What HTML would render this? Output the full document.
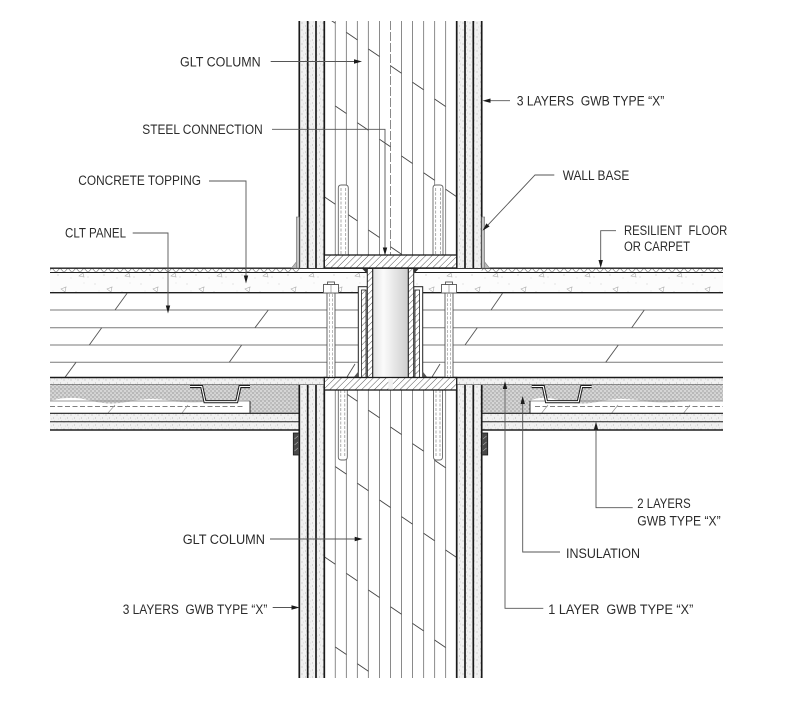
<!DOCTYPE html>
<html><head><meta charset="utf-8"><style>
html,body{margin:0;padding:0;background:#fff;}
svg{display:block;}
text{font-family:"Liberation Sans",sans-serif;font-size:13.5px;fill:#2b2b2b;}
</style></head><body>
<svg width="802" height="715" viewBox="0 0 802 715" xmlns="http://www.w3.org/2000/svg">
<defs>
 <pattern id="gyp" width="7" height="7" patternUnits="userSpaceOnUse">
  <rect width="7" height="7" fill="#f1f1f1"/>
  <circle cx="1" cy="2" r="0.5" fill="#9a9a9a"/>
  <circle cx="4.5" cy="5" r="0.5" fill="#aaa"/>
  <circle cx="5.5" cy="1" r="0.4" fill="#b5b5b5"/>
  <circle cx="2.5" cy="6" r="0.35" fill="#bbb"/>
 </pattern>
 <pattern id="ins" width="4" height="4" patternUnits="userSpaceOnUse">
  <rect width="4" height="4" fill="#d6d6d6"/>
  <circle cx="1" cy="1" r="0.6" fill="#6f6f6f"/>
  <circle cx="3" cy="3" r="0.6" fill="#808080"/>
  <circle cx="3" cy="0.8" r="0.35" fill="#999"/>
 </pattern>
 <pattern id="hatch" width="4.5" height="4.5" patternUnits="userSpaceOnUse" patternTransform="rotate(45)">
  <rect width="4.5" height="4.5" fill="#fff"/>
  <line x1="0" y1="0" x2="0" y2="4.5" stroke="#444" stroke-width="0.9"/>
 </pattern>
 <pattern id="conc" width="46" height="20" patternUnits="userSpaceOnUse">
  <rect width="46" height="20" fill="#fcfcfc"/>
  <circle cx="3" cy="4" r="0.5" fill="#bbb"/>
  <circle cx="12" cy="15" r="0.5" fill="#aaa"/>
  <circle cx="20" cy="7" r="0.4" fill="#bbb"/>
  <circle cx="30" cy="12" r="0.5" fill="#aaa"/>
  <circle cx="38" cy="3" r="0.4" fill="#bbb"/>
  <circle cx="42" cy="17" r="0.5" fill="#bbb"/>
  <circle cx="7" cy="11" r="0.4" fill="#c4c4c4"/>
  <circle cx="25" cy="18" r="0.4" fill="#bbb"/>
  <path d="M15 9 l5 -2 l-1 5z" fill="none" stroke="#aaa" stroke-width="0.6"/>
  <path d="M33 16 l4 -3 l1 4z" fill="none" stroke="#aaa" stroke-width="0.6"/>
 </pattern>
 <pattern id="fin" x="0" y="268" width="8" height="4.5" patternUnits="userSpaceOnUse">
  <rect width="8" height="4.5" fill="#fff"/>
  <path d="M0 4.5 L4 0 L8 4.5" fill="none" stroke="#777" stroke-width="0.6"/>
 </pattern>
 <linearGradient id="tube" x1="0" x2="1" y1="0" y2="0">
  <stop offset="0" stop-color="#e2e2e2"/>
  <stop offset="0.3" stop-color="#fbfbfb"/>
  <stop offset="1" stop-color="#cdcdcd"/>
 </linearGradient>
 <clipPath id="cu"><rect x="324.3" y="21" width="132.4" height="234"/></clipPath>
 <clipPath id="cl"><rect x="324.3" y="390" width="132.4" height="288"/></clipPath>
</defs>

<!-- ================= FLOOR ================= -->
<!-- finish band -->
<rect x="50" y="268" width="249.3" height="4.5" fill="url(#fin)"/>
<rect x="481.7" y="268" width="241.3" height="4.5" fill="url(#fin)"/>
<!-- topping -->
<rect x="50" y="272.5" width="317.3" height="20.2" fill="url(#conc)"/>
<rect x="413.7" y="272.5" width="309.3" height="20.2" fill="url(#conc)"/>
<g stroke="#1e1e1e">
 <line x1="50" y1="268.2" x2="367.3" y2="268.2" stroke-width="1.4"/>
 <line x1="413.7" y1="268.2" x2="723" y2="268.2" stroke-width="1.4"/>
 <line x1="50" y1="272.5" x2="367.3" y2="272.5" stroke-width="1"/>
 <line x1="413.7" y1="272.5" x2="723" y2="272.5" stroke-width="1"/>
 <line x1="50" y1="292.7" x2="358.3" y2="292.7" stroke-width="1.4"/>
 <line x1="422.7" y1="292.7" x2="723" y2="292.7" stroke-width="1.4"/>
</g>
<!-- CLT lam lines -->
<g stroke="#7a7a7a" stroke-width="1">
 <line x1="50" y1="310" x2="358.3" y2="310"/>
 <line x1="50" y1="327.7" x2="358.3" y2="327.7"/>
 <line x1="50" y1="345" x2="358.3" y2="345"/>
 <line x1="50" y1="362.3" x2="358.3" y2="362.3"/>
 <line x1="422.7" y1="310" x2="723" y2="310"/>
 <line x1="422.7" y1="327.7" x2="723" y2="327.7"/>
 <line x1="422.7" y1="345" x2="723" y2="345"/>
 <line x1="422.7" y1="362.3" x2="723" y2="362.3"/>
</g>
<!-- CLT joint diagonals -->
<g stroke="#555" stroke-width="0.9">
 <line x1="127.3" y1="293" x2="115" y2="310"/>
 <line x1="268.3" y1="310" x2="255" y2="327.7"/>
 <line x1="101.7" y1="327.7" x2="89.3" y2="345"/>
 <line x1="241.7" y1="345" x2="229.3" y2="362.3"/>
 <line x1="76" y1="362.3" x2="65" y2="377.3"/>
 <line x1="355" y1="364" x2="347" y2="377"/>
 <line x1="502.7" y1="293" x2="491" y2="310"/>
 <line x1="644.3" y1="310" x2="631.7" y2="327.7"/>
 <line x1="477.3" y1="327.7" x2="465" y2="345"/>
 <line x1="618.3" y1="345" x2="605.7" y2="362.3"/>
 <line x1="440" y1="364" x2="432" y2="377"/>
</g>
<!-- 1 layer GWB under CLT -->
<rect x="50" y="377.5" width="274.3" height="7.5" fill="url(#gyp)"/>
<rect x="456.7" y="377.5" width="266.3" height="7.5" fill="url(#gyp)"/>
<line x1="50" y1="377.5" x2="723" y2="377.5" stroke="#1a1a1a" stroke-width="1.6"/>
<line x1="50" y1="385" x2="324.3" y2="385" stroke="#222" stroke-width="1"/>
<line x1="456.7" y1="385" x2="723" y2="385" stroke="#222" stroke-width="1"/>

<!-- ceiling cavity left -->
<path d="M50 385 H250 V401 Q230 399 210 401.5 T170 400.5 T130 401.5 T90 400.5 T50 401 Z" fill="url(#ins)"/>
<rect x="250" y="385" width="49.3" height="28.3" fill="url(#ins)"/>
<line x1="50" y1="401" x2="250" y2="401" stroke="#777" stroke-width="0.7"/>
<line x1="50" y1="406.5" x2="245" y2="406.5" stroke="#555" stroke-width="0.8" stroke-dasharray="5,2.5"/>
<line x1="250" y1="401" x2="250" y2="413.3" stroke="#333" stroke-width="1"/>
<g stroke="#999" stroke-width="0.7">
 <line x1="115" y1="405" x2="108" y2="413"/>
 <line x1="188" y1="405" x2="182" y2="413"/>
</g>
<!-- ceiling cavity right -->
<path d="M530 385 H723 V401 Q700 399 680 401.5 T640 400.5 T600 401.5 T560 400.5 T530 401 Z" fill="url(#ins)"/>
<rect x="481.7" y="385" width="48.3" height="28.3" fill="url(#ins)"/>
<line x1="530" y1="401" x2="723" y2="401" stroke="#777" stroke-width="0.7"/>
<line x1="535" y1="406.5" x2="723" y2="406.5" stroke="#555" stroke-width="0.8" stroke-dasharray="5,2.5"/>
<line x1="530" y1="401" x2="530" y2="413.3" stroke="#333" stroke-width="1"/>
<g stroke="#999" stroke-width="0.7">
 <line x1="548" y1="405" x2="541.7" y2="413"/>
 <line x1="618" y1="405" x2="611.7" y2="413"/>
 <line x1="690" y1="405" x2="683.7" y2="413"/>
</g>
<!-- hat channels -->
<g fill="none" stroke-linejoin="miter">
 <path d="M190 386.5 H201.7 L205 401.7 H236.7 L240 386.5 H250" stroke="#1e1e1e" stroke-width="3.2"/>
 <path d="M190 386.5 H201.7 L205 401.7 H236.7 L240 386.5 H250" stroke="#fff" stroke-width="1.1"/>
 <path d="M531.7 386.5 H543.3 L546.5 401.7 H578.3 L581.7 386.5 H591.7" stroke="#1e1e1e" stroke-width="3.2"/>
 <path d="M531.7 386.5 H543.3 L546.5 401.7 H578.3 L581.7 386.5 H591.7" stroke="#fff" stroke-width="1.1"/>
</g>
<!-- 2 layers GWB ceiling -->
<rect x="50" y="413.3" width="249.3" height="16.7" fill="url(#gyp)"/>
<rect x="481.7" y="413.3" width="241.3" height="16.7" fill="url(#gyp)"/>
<g stroke="#1e1e1e">
 <line x1="50" y1="413.3" x2="299.3" y2="413.3" stroke-width="1.1"/>
 <line x1="50" y1="421.7" x2="299.3" y2="421.7" stroke-width="1"/>
 <line x1="50" y1="430" x2="299.3" y2="430" stroke-width="1.6"/>
 <line x1="481.7" y1="413.3" x2="723" y2="413.3" stroke-width="1.1"/>
 <line x1="481.7" y1="421.7" x2="723" y2="421.7" stroke-width="1"/>
 <line x1="481.7" y1="430" x2="723" y2="430" stroke-width="1.6"/>
</g>

<!-- ================= COLUMN UPPER ================= -->
<rect x="299.3" y="21" width="25" height="247" fill="url(#gyp)"/>
<rect x="456.7" y="21" width="25" height="247" fill="url(#gyp)"/>
<g stroke="#8a8a8a" stroke-width="1">
 <line x1="335.3" y1="21" x2="335.3" y2="255"/>
 <line x1="346.4" y1="21" x2="346.4" y2="255"/>
 <line x1="357.4" y1="21" x2="357.4" y2="255"/>
 <line x1="368.4" y1="21" x2="368.4" y2="255"/>
 <line x1="379.5" y1="21" x2="379.5" y2="255"/>
 <line x1="390.5" y1="21" x2="390.5" y2="255" stroke-dasharray="9,2"/>
 <line x1="401.5" y1="21" x2="401.5" y2="255"/>
 <line x1="412.5" y1="21" x2="412.5" y2="255"/>
 <line x1="423.6" y1="21" x2="423.6" y2="255"/>
 <line x1="434.6" y1="21" x2="434.6" y2="255"/>
 <line x1="445.6" y1="21" x2="445.6" y2="255"/>
</g>
<g stroke="#444" stroke-width="0.9" clip-path="url(#cu)">
 <line x1="324.3" y1="15.7" x2="335.3" y2="23.2"/>
 <line x1="346.4" y1="32.4" x2="357.4" y2="39.9"/>
 <line x1="368.4" y1="49" x2="379.5" y2="56.5"/>
 <line x1="390.5" y1="65.7" x2="401.5" y2="73.2"/>
 <line x1="412.5" y1="82.3" x2="423.6" y2="89.8"/>
 <line x1="434.6" y1="99" x2="445.6" y2="106.5"/>
 <line x1="335.3" y1="106" x2="346.4" y2="113.5"/>
 <line x1="357.4" y1="122.7" x2="368.4" y2="130.2"/>
 <line x1="379.5" y1="139.3" x2="390.5" y2="146.8"/>
 <line x1="401.5" y1="156" x2="412.5" y2="163.5"/>
 <line x1="423.6" y1="172.7" x2="434.6" y2="180.2"/>
 <line x1="445.6" y1="189.3" x2="456.7" y2="196.8"/>
 <line x1="324.3" y1="196.7" x2="335.3" y2="204.2"/>
 <line x1="346.4" y1="213.4" x2="357.4" y2="220.9"/>
 <line x1="368.4" y1="230" x2="379.5" y2="237.5"/>
 <line x1="390.5" y1="246.7" x2="401.5" y2="254.2"/>
</g>
<!-- upper bolts -->
<g fill="#fff" stroke="#666" stroke-width="0.9">
 <path d="M338.3 255 V188 Q338.3 185 341.3 185 H345.3 Q348.3 185 348.3 188 V255"/>
 <path d="M433 255 V188 Q433 185 436 185 H440 Q443 185 443 188 V255"/>
</g>
<g stroke="#888" stroke-width="0.7" stroke-dasharray="3,1.5">
 <line x1="341" y1="188" x2="341" y2="255"/><line x1="345.7" y1="188" x2="345.7" y2="255"/>
 <line x1="435.7" y1="188" x2="435.7" y2="255"/><line x1="440.4" y1="188" x2="440.4" y2="255"/>
</g>
<g stroke="#1a1a1a" stroke-width="1.7">
 <line x1="299.3" y1="21" x2="299.3" y2="268"/>
 <line x1="307.7" y1="21" x2="307.7" y2="268"/>
 <line x1="316" y1="21" x2="316" y2="268"/>
 <line x1="324.3" y1="21" x2="324.3" y2="268"/>
 <line x1="456.7" y1="21" x2="456.7" y2="268"/>
 <line x1="465" y1="21" x2="465" y2="268"/>
 <line x1="473.3" y1="21" x2="473.3" y2="268"/>
 <line x1="481.7" y1="21" x2="481.7" y2="268"/>
</g>
<!-- wall base -->
<rect x="296.3" y="217" width="3" height="51" fill="#c4c4c4" stroke="#777" stroke-width="0.6"/>
<path d="M291.5 268 L296.3 262 V268 Z" fill="#bbb" stroke="#777" stroke-width="0.6"/>
<rect x="481.7" y="217" width="3" height="51" fill="#c4c4c4" stroke="#777" stroke-width="0.6"/>
<path d="M489.5 268 L484.7 262 V268 Z" fill="#bbb" stroke="#777" stroke-width="0.6"/>

<!-- ================= COLUMN LOWER ================= -->
<rect x="299.3" y="385" width="25" height="293" fill="url(#gyp)"/>
<rect x="456.7" y="385" width="25" height="293" fill="url(#gyp)"/>
<g stroke="#8a8a8a" stroke-width="1">
 <line x1="335.3" y1="390" x2="335.3" y2="678"/>
 <line x1="346.4" y1="390" x2="346.4" y2="678"/>
 <line x1="357.4" y1="390" x2="357.4" y2="678"/>
 <line x1="368.4" y1="390" x2="368.4" y2="678"/>
 <line x1="379.5" y1="390" x2="379.5" y2="678"/>
 <line x1="390.5" y1="390" x2="390.5" y2="678"/>
 <line x1="401.5" y1="390" x2="401.5" y2="678"/>
 <line x1="412.5" y1="390" x2="412.5" y2="678"/>
 <line x1="423.6" y1="390" x2="423.6" y2="678"/>
 <line x1="434.6" y1="390" x2="434.6" y2="678"/>
 <line x1="445.6" y1="390" x2="445.6" y2="678"/>
</g>
<g stroke="#444" stroke-width="0.9" clip-path="url(#cl)">
 <line x1="346.4" y1="393.7" x2="357.4" y2="401.2"/>
 <line x1="368.4" y1="410.3" x2="379.5" y2="417.8"/>
 <line x1="390.5" y1="427" x2="401.5" y2="434.5"/>
 <line x1="412.5" y1="443.6" x2="423.6" y2="451.1"/>
 <line x1="434.6" y1="460.3" x2="445.6" y2="467.8"/>
 <line x1="335.3" y1="466.6" x2="346.4" y2="474.1"/>
 <line x1="357.4" y1="483.3" x2="368.4" y2="490.8"/>
 <line x1="379.5" y1="500" x2="390.5" y2="507.5"/>
 <line x1="401.5" y1="516.6" x2="412.5" y2="524.1"/>
 <line x1="423.6" y1="533.3" x2="434.6" y2="540.8"/>
 <line x1="445.6" y1="550" x2="456.7" y2="557.5"/>
 <line x1="324.3" y1="556.7" x2="335.3" y2="564.2"/>
 <line x1="346.4" y1="573.4" x2="357.4" y2="580.9"/>
 <line x1="368.4" y1="590" x2="379.5" y2="597.5"/>
 <line x1="390.5" y1="606.7" x2="401.5" y2="614.2"/>
 <line x1="412.5" y1="623.4" x2="423.6" y2="630.9"/>
 <line x1="434.6" y1="640" x2="445.6" y2="647.5"/>
 <line x1="335.3" y1="647" x2="346.4" y2="654.5"/>
 <line x1="357.4" y1="663.7" x2="368.4" y2="671.2"/>
</g>
<!-- lower bolts -->
<g fill="#fff" stroke="#666" stroke-width="0.9">
 <path d="M338.3 390 V457 Q338.3 460 341.3 460 H344.3 Q347.3 460 347.3 457 V390"/>
 <path d="M433.5 390 V457 Q433.5 460 436.5 460 H439.5 Q442.5 460 442.5 457 V390"/>
</g>
<g stroke="#888" stroke-width="0.7" stroke-dasharray="3,1.5">
 <line x1="340.8" y1="390" x2="340.8" y2="457"/><line x1="344.8" y1="390" x2="344.8" y2="457"/>
 <line x1="436" y1="390" x2="436" y2="457"/><line x1="440" y1="390" x2="440" y2="457"/>
</g>
<g stroke="#1a1a1a" stroke-width="1.7">
 <line x1="299.3" y1="385" x2="299.3" y2="678"/>
 <line x1="307.7" y1="385" x2="307.7" y2="678"/>
 <line x1="316" y1="385" x2="316" y2="678"/>
 <line x1="324.3" y1="385" x2="324.3" y2="678"/>
 <line x1="456.7" y1="385" x2="456.7" y2="678"/>
 <line x1="465" y1="385" x2="465" y2="678"/>
 <line x1="473.3" y1="385" x2="473.3" y2="678"/>
 <line x1="481.7" y1="385" x2="481.7" y2="678"/>
</g>
<!-- sealant blocks -->
<rect x="293.3" y="433" width="6" height="22" fill="#4a4a4a" stroke="#1a1a1a" stroke-width="0.8"/>
<rect x="481.7" y="433" width="6" height="22" fill="#4a4a4a" stroke="#1a1a1a" stroke-width="0.8"/>
<g stroke="#aaa" stroke-width="0.6">
 <line x1="294.5" y1="439" x2="298" y2="436"/><line x1="294.5" y1="445" x2="298" y2="442"/><line x1="294.5" y1="451" x2="298" y2="448"/>
 <line x1="483" y1="439" x2="486.5" y2="436"/><line x1="483" y1="445" x2="486.5" y2="442"/><line x1="483" y1="451" x2="486.5" y2="448"/>
</g>

<!-- ================= STEEL ================= -->
<!-- CLT bolts -->
<g fill="#fff" stroke="#555" stroke-width="0.9">
 <rect x="327" y="293" width="8" height="84.5"/>
 <rect x="445" y="293" width="8" height="84.5"/>
 <rect x="323.5" y="284.5" width="15" height="8.5"/>
 <rect x="441.5" y="284.5" width="15" height="8.5"/>
 <rect x="327.5" y="282" width="7" height="2.5"/>
 <rect x="445.5" y="282" width="7" height="2.5"/>
</g>
<g stroke="#999" stroke-width="0.7" stroke-dasharray="3,1.5">
 <line x1="329.5" y1="294" x2="329.5" y2="377"/><line x1="332.5" y1="294" x2="332.5" y2="377"/>
 <line x1="447.5" y1="294" x2="447.5" y2="377"/><line x1="450.5" y1="294" x2="450.5" y2="377"/>
</g>
<line x1="331" y1="284.5" x2="331" y2="293" stroke="#777" stroke-width="0.6"/>
<line x1="449" y1="284.5" x2="449" y2="293" stroke="#777" stroke-width="0.6"/>
<!-- knife plates -->
<rect x="358.3" y="286.7" width="9" height="90.8" fill="#fff" stroke="#222" stroke-width="1"/>
<rect x="361.5" y="290" width="4.5" height="87.5" fill="url(#hatch)" stroke="#222" stroke-width="0.8"/>
<rect x="413.7" y="286.7" width="9" height="90.8" fill="#fff" stroke="#222" stroke-width="1"/>
<rect x="415" y="290" width="4.5" height="87.5" fill="url(#hatch)" stroke="#222" stroke-width="0.8"/>
<!-- tube -->
<rect x="372.7" y="268.5" width="35.6" height="109" fill="url(#tube)"/>
<rect x="367.3" y="268.5" width="5.4" height="109" fill="url(#hatch)" stroke="#222" stroke-width="1"/>
<rect x="408.3" y="268.5" width="5.4" height="109" fill="url(#hatch)" stroke="#222" stroke-width="1"/>
<rect x="372.7" y="268.5" width="35.6" height="109" fill="none" stroke="#222" stroke-width="0.8"/>
<!-- welds -->
<path d="M361.8 268.3 H367.3 V274 Z" fill="#333"/>
<path d="M419.2 268.3 H413.7 V274 Z" fill="#333"/>
<path d="M353.5 377.5 L358.3 377.5 L358.3 371.5 Z" fill="#555"/>
<path d="M427.5 377.5 L422.7 377.5 L422.7 371.5 Z" fill="#555"/>
<!-- plates -->
<rect x="324.3" y="255" width="132.4" height="13" fill="url(#hatch)" stroke="#1a1a1a" stroke-width="1.3"/>
<rect x="324.3" y="377.5" width="132.4" height="12.5" fill="url(#hatch)" stroke="#1a1a1a" stroke-width="1.3"/>
<rect x="388.3" y="378.2" width="4.5" height="11.2" fill="#f2f2f2"/>

<!-- ================= LEADERS ================= -->
<g stroke="#555" stroke-width="0.9" fill="none">
 <polyline points="270.7,61.5 355,61.5"/>
 <polyline points="510,100.7 489,100.7"/>
 <polyline points="272,129.3 385,129.3 385,248"/>
 <polyline points="209,181 246,181 246,276"/>
 <polyline points="132.7,233 168,233 168,306"/>
 <polyline points="554.3,175 535,175 488,224.9"/>
 <polyline points="616,230.7 600.7,230.7 600.7,261"/>
 <polyline points="632.7,507.7 596,507.7 596,428"/>
 <polyline points="560,552 522.7,552 522.7,403"/>
 <polyline points="543.3,608.3 505,608.3 505,388"/>
 <polyline points="270,539 356,539"/>
 <polyline points="272.7,607.5 293,607.5"/>
</g>
<g fill="#1a1a1a">
 <polygon points="362,61.5 354,59.3 354,63.7"/>
 <polygon points="482.5,100.7 490.5,98.5 490.5,102.9"/>
 <polygon points="385,255.5 382.8,247.5 387.2,247.5"/>
 <polygon points="246,283.5 243.8,275.5 248.2,275.5"/>
 <polygon points="168,313.5 165.8,305.5 170.2,305.5"/>
 <polygon points="482.5,230.7 489.6,226.4 486.4,223.4"/>
 <polygon points="600.7,268 598.5,260 602.9,260"/>
 <polygon points="596,421.7 593.8,429.7 598.2,429.7"/>
 <polygon points="522.7,396 520.5,404 524.9,404"/>
 <polygon points="505,381 502.8,389 507.2,389"/>
 <polygon points="362.7,539 354.7,536.8 354.7,541.2"/>
 <polygon points="299.5,607.5 291.5,605.3 291.5,609.7"/>
</g>

<!-- ================= LABELS ================= -->
<text x="180" y="66.3" textLength="80.7" lengthAdjust="spacingAndGlyphs">GLT COLUMN</text>
<text x="516.7" y="105.6" textLength="147.6" lengthAdjust="spacingAndGlyphs">3 LAYERS&#160;&#160;GWB TYPE “X”</text>
<text x="142.3" y="134.2" textLength="120.4" lengthAdjust="spacingAndGlyphs">STEEL CONNECTION</text>
<text x="78.3" y="184.9" textLength="122.7" lengthAdjust="spacingAndGlyphs">CONCRETE TOPPING</text>
<text x="562.7" y="179.9" textLength="66.6" lengthAdjust="spacingAndGlyphs">WALL BASE</text>
<text x="65" y="237.6" textLength="61" lengthAdjust="spacingAndGlyphs">CLT PANEL</text>
<text x="624" y="234.9" textLength="103.3" lengthAdjust="spacingAndGlyphs">RESILIENT&#160;&#160;FLOOR</text>
<text x="624" y="250.9" textLength="66" lengthAdjust="spacingAndGlyphs">OR CARPET</text>
<text x="637.3" y="508.2" textLength="53.4" lengthAdjust="spacingAndGlyphs">2 LAYERS</text>
<text x="637.3" y="525.6" textLength="83.4" lengthAdjust="spacingAndGlyphs">GWB TYPE “X”</text>
<text x="566" y="558.2" textLength="74" lengthAdjust="spacingAndGlyphs">INSULATION</text>
<text x="548.3" y="614.2" textLength="145" lengthAdjust="spacingAndGlyphs">1 LAYER&#160;&#160;GWB TYPE “X”</text>
<text x="182.7" y="544.2" textLength="82.3" lengthAdjust="spacingAndGlyphs">GLT COLUMN</text>
<text x="122.7" y="614.2" textLength="144.6" lengthAdjust="spacingAndGlyphs">3 LAYERS&#160;&#160;GWB TYPE “X”</text>
</svg>
</body></html>
